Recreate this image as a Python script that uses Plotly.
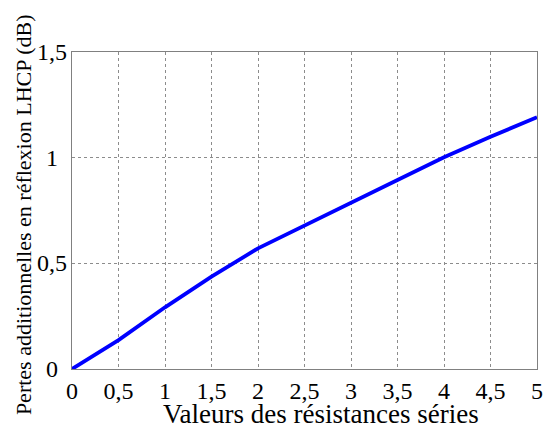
import plotly.graph_objects as go

# Series resistance values and the extra LHCP reflection loss (dB)
resistance = [0, 0.5, 1, 1.5, 2, 2.5, 3, 3.5, 4, 4.5, 5]
loss_db = [0, 0.137, 0.292, 0.437, 0.571, 0.68, 0.784, 0.894, 1.002, 1.099, 1.191]

x_ticks = [0, 0.5, 1, 1.5, 2, 2.5, 3, 3.5, 4, 4.5, 5]
x_labels = ["0", "0,5", "1", "1,5", "2", "2,5", "3", "3,5", "4", "4,5", "5"]
y_ticks = [0, 0.5, 1, 1.5]
y_labels = ["0", "0,5", "1", "1,5"]

FONT = "Liberation Serif"
TICK_SIZE = 24

fig = go.Figure()
fig.add_trace(go.Scatter(
    x=resistance, y=loss_db, mode="lines",
    line=dict(color="#0000ff", width=3.8),
    showlegend=False, hoverinfo="skip",
))

axis_common = dict(
    showgrid=True, gridcolor="#8c8c8c", griddash="dot", gridwidth=1,
    showline=True, linecolor="#808080", linewidth=1, mirror=True,
    zeroline=False, ticks="", fixedrange=True,
    tickfont=dict(family=FONT, size=TICK_SIZE, color="black"),
)

fig.update_xaxes(range=[0, 5], tickvals=x_ticks, ticktext=x_labels,
                 ticklabelstandoff=0, ticklabeloverflow="allow", **axis_common)
fig.update_yaxes(range=[0, 1.5], tickvals=y_ticks, showticklabels=False, **axis_common)

annotations = [
    dict(text="Valeurs des résistances séries", xref="paper", yref="paper",
         x=(324 - 72) / 471, y=-(414 - 369) / 317, xanchor="center", yanchor="middle",
         showarrow=False, borderpad=0, font=dict(family=FONT, size=27, color="black")),
    dict(text="Pertes additionnelles en réflexion LHCP (dB)", xref="paper", yref="paper",
         x=-(72 - 23) / 471, y=(369 - 214.5) / 317, xanchor="center", yanchor="middle",
         textangle=-90, showarrow=False, borderpad=0,
         font=dict(family=FONT, size=22, color="black")),
]
# y tick labels, centred in the column left of the axis
for v, lab in zip(y_ticks, y_labels):
    annotations.append(dict(
        text=lab, xref="paper", yref="y", x=0, y=v, xshift=-20,
        xanchor="center", yanchor="middle", showarrow=False,
        font=dict(family=FONT, size=TICK_SIZE, color="black"),
    ))

fig.update_layout(
    width=548, height=430,
    margin=dict(l=72, r=5, t=52, b=61),
    paper_bgcolor="white", plot_bgcolor="white",
    font=dict(family=FONT),
    annotations=annotations,
)

fig.write_html("out.html")
